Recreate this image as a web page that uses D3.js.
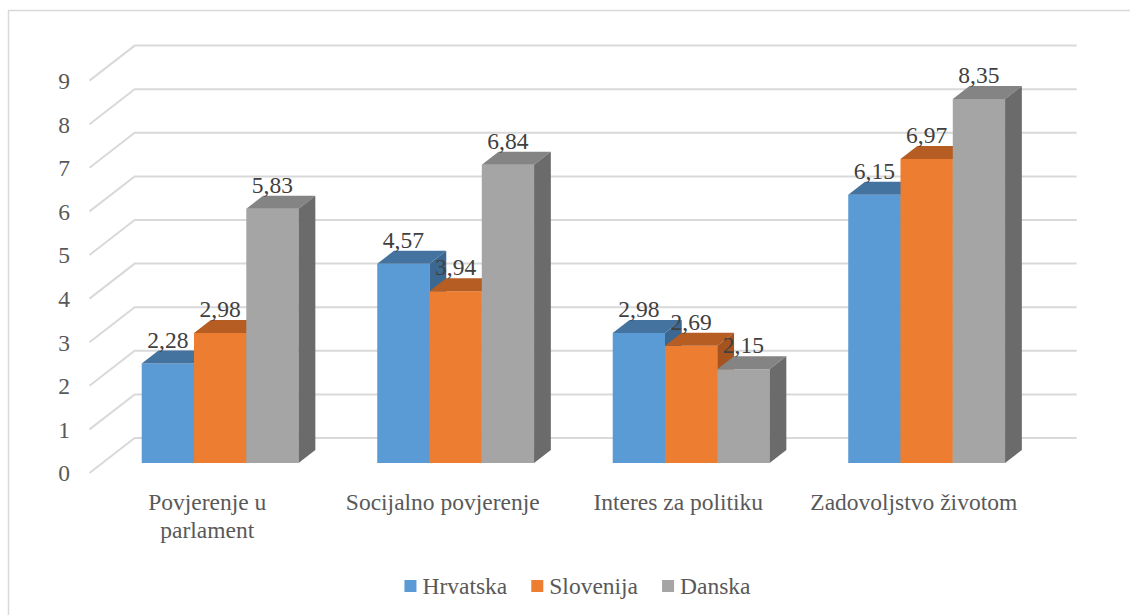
<!DOCTYPE html>
<html>
<head>
<meta charset="utf-8">
<script src="https://cdn.jsdelivr.net/npm/d3@7"></script>
<style>
  html, body { margin: 0; padding: 0; background: #ffffff; }
  svg { display: block; }
</style>
</head>
<body>
<svg id="chart" width="1130" height="615" font-family="'Liberation Serif', 'Times New Roman', 'DejaVu Serif', serif"></svg>
<script>
// ---- data ----
const categories = ["Povjerenje u parlament", "Socijalno povjerenje", "Interes za politiku", "Zadovoljstvo životom"];
const seriesNames = ["Hrvatska", "Slovenija", "Danska"];
const hrvatska = [2.28, 4.57, 2.98, 6.15];
const slovenija = [2.98, 3.94, 2.69, 6.97];
const danska = [5.83, 6.84, 2.15, 8.35];
const yTicks = [0, 1, 2, 3, 4, 5, 6, 7, 8, 9];

const seriesValues = [hrvatska, slovenija, danska];
const frontColors = ["#5B9BD5", "#ED7D31", "#A5A5A5"];
const topColors = ["#44739f", "#b65d23", "#848484"];
const sideColors = ["#3b6790", "#a5541f", "#6b6b6b"];

const svg = d3.select("#chart");
const fontSize = 23.5;
const fontFamily = "'Liberation Serif', 'Times New Roman', 'DejaVu Serif', serif";
const textColor = "#595959";
const gridColor = "#d9d9d9";

// chart frame
svg.append("rect")
  .attr("x", 8.5).attr("y", 10.5)
  .attr("width", 1140).attr("height", 620)
  .attr("fill", "#ffffff").attr("stroke", gridColor).attr("stroke-width", 1.5);

// ---- scales ----
const y = d3.scaleLinear().domain([0, 9]).range([473, 473 - 9 * 43.6]);
const x = d3.scaleBand().domain(categories).range([89.5, 1031.5])
  .paddingInner(0.334).paddingOuter(0.167);
const xs = d3.scaleBand().domain(seriesNames).range([0, x.bandwidth()]);

// 3D projection: xf = floor-front x, v = value, z = depth in px (vertical units)
const depthSlope = 1.29;
const zWall = 35, zBarFront = 10, zBarBack = 23;
function proj(xf, v, z) { return [xf + z * depthSlope, y(v) - z]; }
const line = d3.line();

const x0 = x.range()[0], x1 = x.range()[1];

// ---- gridlines (side wall diagonal + back wall) ----
const grid = svg.append("g");
grid.selectAll("path").data(yTicks).join("path")
  .attr("d", t => line([proj(x0, t, 0), proj(x0, t, zWall), proj(x1, t, zWall)]))
  .attr("fill", "none").attr("stroke", gridColor).attr("stroke-width", 2);

// ---- y tick labels ----
svg.append("g").selectAll("text").data(yTicks).join("text")
  .attr("x", 70).attr("y", t => y(t))
  .attr("dy", "0.36em")
  .attr("text-anchor", "end")
  .attr("font-family", fontFamily)
  .attr("font-size", fontSize)
  .attr("fill", textColor)
  .text(t => t);

// ---- bars ----
const bars = [];
categories.forEach((c, ci) => {
  seriesNames.forEach((s, si) => {
    bars.push({ c, s, si, v: seriesValues[si][ci], xl: x(c) + xs(s), w: xs.bandwidth() });
  });
});

const barG = svg.append("g");
bars.forEach(b => {
  const g = barG.append("g");
  const xl = b.xl, xr = b.xl + b.w, v = b.v;
  g.append("path")
    .attr("d", line([proj(xl, 0, zBarFront), proj(xr, 0, zBarFront), proj(xr, v, zBarFront), proj(xl, v, zBarFront)]) + "Z")
    .attr("fill", frontColors[b.si]);
  g.append("path")
    .attr("d", line([proj(xl, v, zBarFront), proj(xr, v, zBarFront), proj(xr, v, zBarBack), proj(xl, v, zBarBack)]) + "Z")
    .attr("fill", topColors[b.si]);
  g.append("path")
    .attr("d", line([proj(xr, 0, zBarFront), proj(xr, v, zBarFront), proj(xr, v, zBarBack), proj(xr, 0, zBarBack)]) + "Z")
    .attr("fill", sideColors[b.si]);
});

// ---- value labels ----
const fmt = v => d3.format(".2f")(v).replace(".", ",");
svg.append("g").selectAll("text").data(bars).join("text")
  .attr("x", b => proj(b.xl + b.w / 2, b.v, zBarFront)[0])
  .attr("y", b => proj(b.xl + b.w / 2, b.v, zBarFront)[1] - 16)
  .attr("text-anchor", "middle")
  .attr("font-family", fontFamily)
  .attr("font-size", fontSize)
  .attr("fill", "#404040")
  .text(b => fmt(b.v));

// ---- category labels (wrapped) ----
const catG = svg.append("g");
const maxLabelWidth = 212;
categories.forEach(c => {
  const cx = x(c) + x.bandwidth() / 2;
  const t = catG.append("text")
    .attr("x", cx).attr("y", 510)
    .attr("text-anchor", "middle")
    .attr("font-family", fontFamily)
    .attr("font-size", fontSize)
    .attr("fill", textColor);
  const words = c.split(" ");
  let lineWords = [];
  let tspan = t.append("tspan").attr("x", cx).attr("dy", 0);
  words.forEach(wd => {
    lineWords.push(wd);
    tspan.text(lineWords.join(" "));
    if (tspan.node().getComputedTextLength() > maxLabelWidth && lineWords.length > 1) {
      lineWords.pop();
      tspan.text(lineWords.join(" "));
      lineWords = [wd];
      tspan = t.append("tspan").attr("x", cx).attr("dy", 27.5).text(wd);
    }
  });
});

// ---- legend ----
const legend = svg.append("g");
const sq = 12, gapSq = 6, gapItem = 24;
const items = seriesNames.map((s, i) => {
  const tmp = legend.append("text").attr("font-family", fontFamily).attr("font-size", fontSize).text(s);
  const w = tmp.node().getComputedTextLength();
  tmp.remove();
  return { s, i, w };
});
const totalW = d3.sum(items, d => sq + gapSq + d.w) + gapItem * (items.length - 1);
let lx = 577.5 - totalW / 2;
items.forEach(d => {
  legend.append("rect").attr("x", lx).attr("y", 580).attr("width", sq).attr("height", sq)
    .attr("fill", frontColors[d.i]);
  legend.append("text").attr("x", lx + sq + gapSq).attr("y", 594)
    .attr("font-family", fontFamily)
    .attr("font-size", fontSize).attr("fill", textColor).text(d.s);
  lx += sq + gapSq + d.w + gapItem;
});
</script>
</body>
</html>
